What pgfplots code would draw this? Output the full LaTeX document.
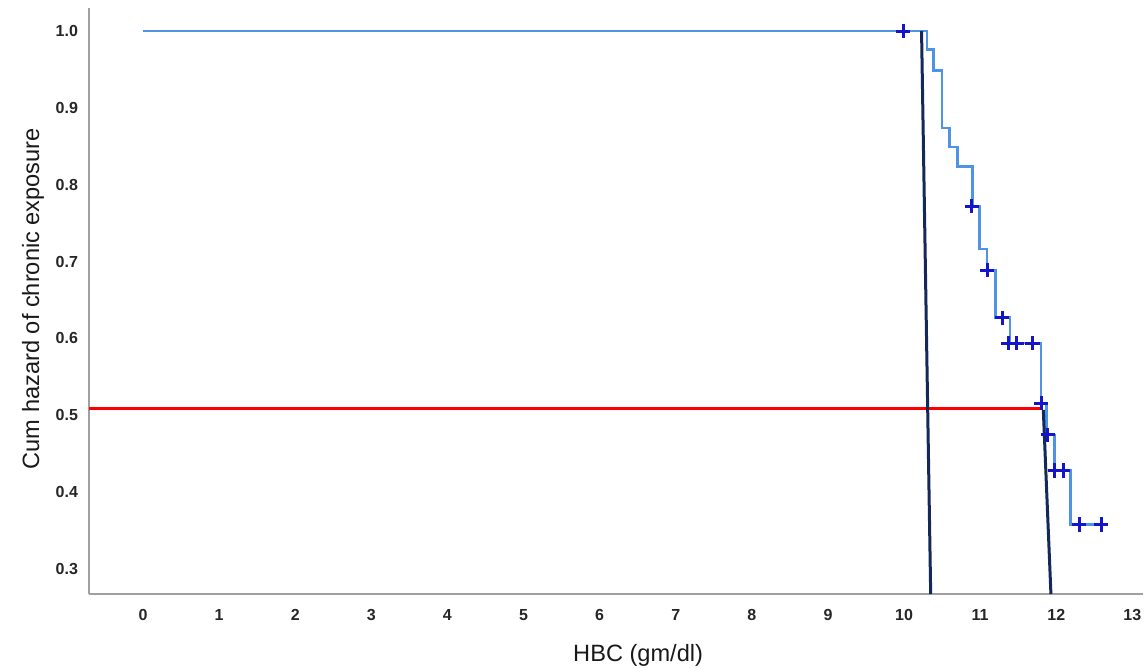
\documentclass[border=0pt]{standalone}
\usepackage{fontspec}
\setmainfont{Liberation Sans}
\usepackage{pgfplots}
\pgfplotsset{compat=1.18}
\definecolor{stepblue}{HTML}{4F93E6}
\definecolor{censblue}{HTML}{1414C8}
\definecolor{navyline}{HTML}{14285A}
\definecolor{axgray}{HTML}{A0A0A0}
\begin{document}
\begin{tikzpicture}
\begin{axis}[
  name=ax,
  scale only axis,
  width=527pt, height=293pt,
  xmin=-0.71, xmax=13.14,
  ymin=0.2675, ymax=1.03,
  axis x line=bottom, axis y line=left,
  axis line style={axgray, line width=1pt, -},
  xtick={0,1,...,13},
  ytick={0.3,0.4,0.5,0.6,0.7,0.8,0.9,1.0},
  major tick length=0pt,
  /pgf/number format/assume math mode=true,
  ticklabel style={font=\bfseries\fontsize{8}{9}\selectfont, text=black!85},
  yticklabel style={/pgf/number format/fixed, /pgf/number format/fixed zerofill, /pgf/number format/precision=1, xshift=-2pt},
  xticklabel style={yshift=-4pt},
  xlabel={HBC (gm/dl)},
  ylabel={Cum hazard of chronic exposure},
  label style={font=\fontsize{11.8}{13}\selectfont, text=black!90},
  xlabel style={at={(axis description cs:0.521,0)}, anchor=center, yshift=-30.5pt},
  ylabel style={at={(axis description cs:0,0.504)}, anchor=center, yshift=28pt},
  clip=false,
]
% red reference line
\addplot[red, line width=1.5pt] coordinates {(-0.71,0.5085) (11.80,0.5085)};
% step function
\addplot[stepblue, line width=1.3pt, const plot] coordinates {
  (0,1.0) (10.30,0.976) (10.39,0.949) (10.50,0.874) (10.60,0.849)
  (10.70,0.824) (10.90,0.772) (10.99,0.7165) (11.09,0.689) (11.20,0.627)
  (11.39,0.594) (11.80,0.516) (11.87,0.4745) (11.98,0.428) (12.19,0.358)
  (12.59,0.358)
};
% dark lines
\addplot[navyline, line width=1.5pt] coordinates {(10.23,1.0) (10.35,0.2675)};
\addplot[navyline, line width=1.5pt] coordinates {(11.83,0.507) (11.93,0.2675)};
% censor marks
\addplot[only marks, mark=+, mark size=3.6pt, censblue, mark options={line width=1.5pt}] coordinates {
  (9.99,1.0) (10.89,0.772) (11.09,0.689) (11.29,0.627)
  (11.37,0.594) (11.48,0.594) (11.69,0.594)
  (11.80,0.516) (11.89,0.4745) (11.98,0.428) (12.09,0.428)
  (12.30,0.358) (12.59,0.358)
};
\end{axis}
\pgfresetboundingbox
\path[use as bounding box] ([xshift=-44.5pt,yshift=-37pt]ax.south west) rectangle ([xshift=1pt,yshift=4pt]ax.north east);
\end{tikzpicture}
\end{document}
